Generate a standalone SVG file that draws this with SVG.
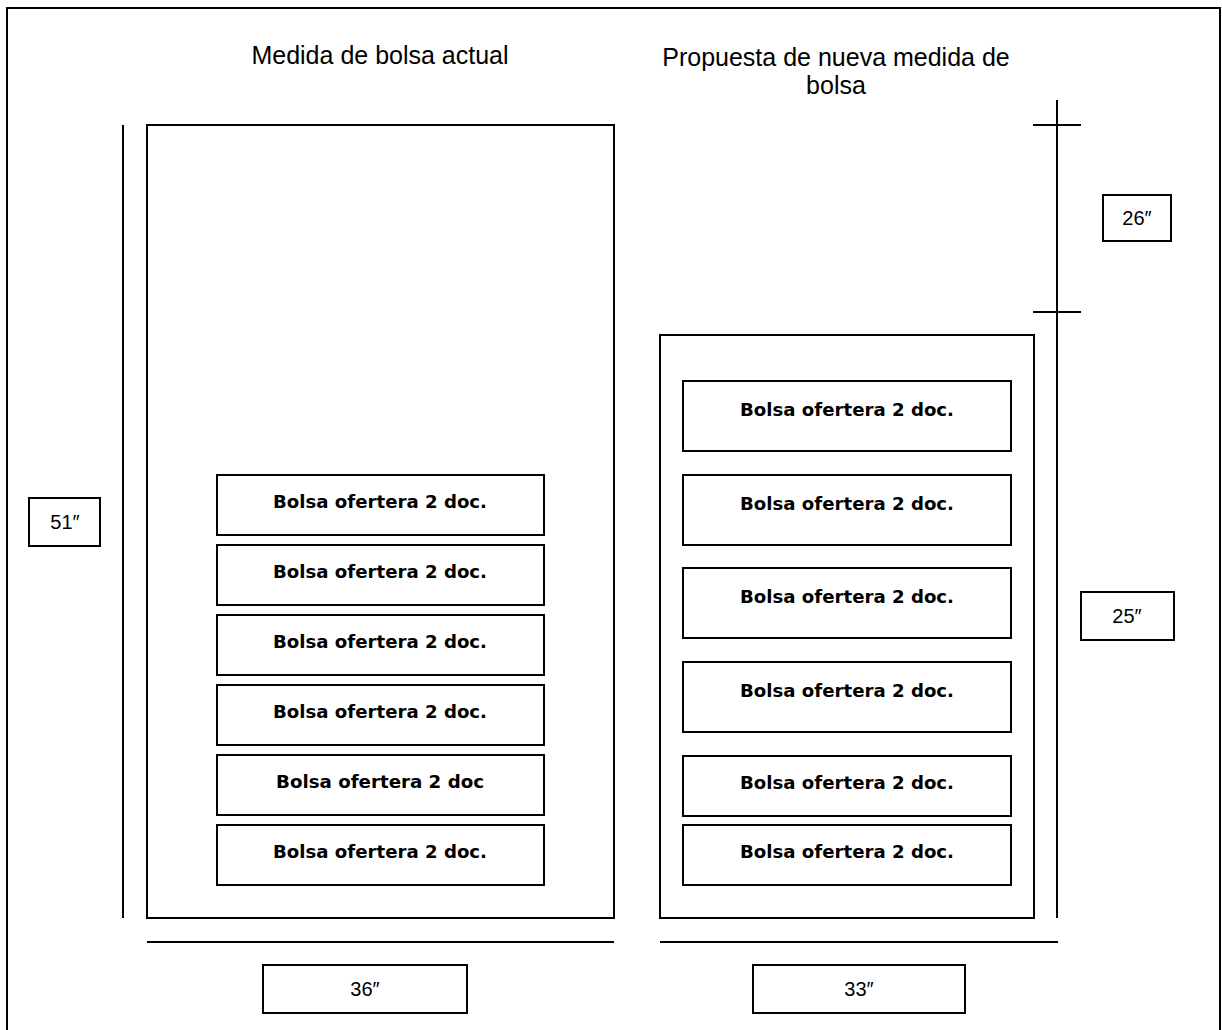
<svg xmlns="http://www.w3.org/2000/svg" width="1222" height="1030" viewBox="0 0 1222 1030">
  <style>
    .frame { fill: none; stroke: #000; stroke-width: 2; }
    .box { fill: #fff; stroke: #000; stroke-width: 2; }
    .dim { stroke: #000; stroke-width: 2; fill: none; }
    .title { font-family: "Liberation Sans", Arial, sans-serif; font-size: 25px; fill: #000; text-anchor: middle; }
    .item { font-family: "DejaVu Sans", "Liberation Sans", sans-serif; font-weight: bold; font-size: 18px; fill: #000; text-anchor: middle; }
    .size { font-family: "Liberation Sans", Arial, sans-serif; font-size: 20px; fill: #000; text-anchor: middle; }
  </style>

  <rect x="0" y="0" width="1222" height="1030" fill="#fff"/>
  <!-- page border (bottom edge runs off the page) -->
  <rect class="frame" x="7" y="8" width="1213" height="1040"/>

  <!-- headings -->
  <text class="title" x="380" y="64">Medida de bolsa actual</text>
  <text class="title" x="836" y="66">Propuesta de nueva medida de</text>
  <text class="title" x="836" y="94">bolsa</text>

  <!-- current bag -->
  <g id="bolsa-actual">
    <rect class="box" x="147" y="125" width="467" height="793"/>
  </g>
  <g id="actual-1"><rect class="box" x="217" y="475" width="327" height="60"/><text class="item" x="380" y="508" textLength="214" lengthAdjust="spacingAndGlyphs">Bolsa ofertera 2 doc.</text></g>
  <g id="actual-2"><rect class="box" x="217" y="545" width="327" height="60"/><text class="item" x="380" y="578" textLength="214" lengthAdjust="spacingAndGlyphs">Bolsa ofertera 2 doc.</text></g>
  <g id="actual-3"><rect class="box" x="217" y="615" width="327" height="60"/><text class="item" x="380" y="648" textLength="214" lengthAdjust="spacingAndGlyphs">Bolsa ofertera 2 doc.</text></g>
  <g id="actual-4"><rect class="box" x="217" y="685" width="327" height="60"/><text class="item" x="380" y="718" textLength="214" lengthAdjust="spacingAndGlyphs">Bolsa ofertera 2 doc.</text></g>
  <g id="actual-5"><rect class="box" x="217" y="755" width="327" height="60"/><text class="item" x="380" y="788" textLength="208" lengthAdjust="spacingAndGlyphs">Bolsa ofertera 2 doc</text></g>
  <g id="actual-6"><rect class="box" x="217" y="825" width="327" height="60"/><text class="item" x="380" y="858" textLength="214" lengthAdjust="spacingAndGlyphs">Bolsa ofertera 2 doc.</text></g>

  <!-- proposed bag -->
  <g id="bolsa-propuesta">
    <rect class="box" x="660" y="335" width="374" height="583"/>
  </g>
  <g id="propuesta-1"><rect class="box" x="683" y="381" width="328" height="70"/><text class="item" x="847" y="416" textLength="214" lengthAdjust="spacingAndGlyphs">Bolsa ofertera 2 doc.</text></g>
  <g id="propuesta-2"><rect class="box" x="683" y="475" width="328" height="70"/><text class="item" x="847" y="510" textLength="214" lengthAdjust="spacingAndGlyphs">Bolsa ofertera 2 doc.</text></g>
  <g id="propuesta-3"><rect class="box" x="683" y="568" width="328" height="70"/><text class="item" x="847" y="603" textLength="214" lengthAdjust="spacingAndGlyphs">Bolsa ofertera 2 doc.</text></g>
  <g id="propuesta-4"><rect class="box" x="683" y="662" width="328" height="70"/><text class="item" x="847" y="697" textLength="214" lengthAdjust="spacingAndGlyphs">Bolsa ofertera 2 doc.</text></g>
  <g id="propuesta-5"><rect class="box" x="683" y="756" width="328" height="60"/><text class="item" x="847" y="789" textLength="214" lengthAdjust="spacingAndGlyphs">Bolsa ofertera 2 doc.</text></g>
  <g id="propuesta-6"><rect class="box" x="683" y="825" width="328" height="60"/><text class="item" x="847" y="858" textLength="214" lengthAdjust="spacingAndGlyphs">Bolsa ofertera 2 doc.</text></g>

  <!-- dimension lines -->
  <g id="cotas">
    <line class="dim" x1="123" y1="125" x2="123" y2="918"/>
    <line class="dim" x1="147" y1="942" x2="614" y2="942"/>
    <line class="dim" x1="660" y1="942" x2="1058" y2="942"/>
    <line class="dim" x1="1057" y1="100" x2="1057" y2="918"/>
    <line class="dim" x1="1033" y1="125" x2="1081" y2="125"/>
    <line class="dim" x1="1033" y1="312" x2="1081" y2="312"/>
  </g>

  <!-- dimension labels -->
  <g id="medida-51"><rect class="box" x="29" y="498" width="71" height="48"/><text class="size" x="65" y="529">51″</text></g>
  <g id="medida-36"><rect class="box" x="263" y="965" width="204" height="48"/><text class="size" x="365" y="996">36″</text></g>
  <g id="medida-33"><rect class="box" x="753" y="965" width="212" height="48"/><text class="size" x="859" y="996">33″</text></g>
  <g id="medida-26"><rect class="box" x="1103" y="195" width="68" height="46"/><text class="size" x="1137" y="225">26″</text></g>
  <g id="medida-25"><rect class="box" x="1081" y="592" width="93" height="48"/><text class="size" x="1127" y="623">25″</text></g>
</svg>
